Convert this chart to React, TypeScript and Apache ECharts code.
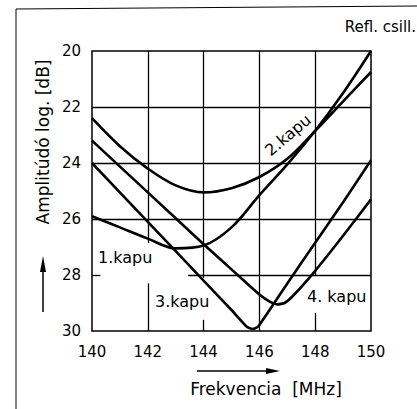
import React, { useEffect, useRef } from "react";
import * as echarts from "echarts";

// Frequency axis ticks (MHz) and amplitude ticks (dB)
const xTicks = [140, 142, 144, 146, 148, 150];
const yTicks = [20, 22, 24, 26, 28, 30];

// 1.kapu
const kapu1Freq = [140, 141, 142, 143, 144, 145, 146, 147, 148, 149, 150];
const kapu1Amp = [25.9, 26.3, 26.7, 27.05, 26.95, 26.3, 25.15, 24.05, 22.85, 21.5, 20.0];
// 2.kapu
const kapu2Freq = [140, 141, 142, 143, 144, 145, 146, 147, 148, 149, 150];
const kapu2Amp = [22.4, 23.4, 24.2, 24.8, 25.05, 24.9, 24.5, 23.85, 22.85, 21.8, 20.75];
// 3.kapu
const kapu3Freq = [140, 142, 144, 145, 145.55, 145.75, 145.95, 147, 148, 149, 150];
const kapu3Amp = [24.0, 26.1, 28.2, 29.25, 29.85, 29.93, 29.85, 28.3, 26.85, 25.4, 23.9];
// 4.kapu
const kapu4Freq = [140, 142, 144, 145, 146, 146.4, 146.65, 146.9, 147.2, 148, 149, 150];
const kapu4Amp = [23.2, 25.05, 26.9, 27.8, 28.7, 28.97, 29.05, 29.0, 28.75, 27.85, 26.6, 25.3];

// Grid line segments (interrupted where labels sit)
const gridVertical = [
  [142, 20, 26.85],
  [142, 28.3, 30],
  [144, 20, 28.1],
  [144, 29.6, 30],
  [146, 20, 30],
  [148, 20, 28],
  [148, 29.35, 30],
];
const gridHorizontal = [
  [22, 140, 150],
  [24, 140, 150],
  [26, 140, 150],
  [28, 140, 140.3],
  [28, 143.45, 150],
];

const FONT = "DejaVu Sans";

function pairs(xs: number[], ys: number[]) {
  return xs.map((x, i) => [x, ys[i]]);
}

export default function App() {
  const ref = useRef<HTMLDivElement>(null);

  useEffect(() => {
    if (!ref.current) return;
    const chart = echarts.init(ref.current, null, { renderer: "svg" });

    const gridLines: any[] = [];
    gridVertical.forEach(([x, y1, y2]) =>
      gridLines.push([{ coord: [x, y1] }, { coord: [x, y2] }])
    );
    gridHorizontal.forEach(([y, x1, x2]) =>
      gridLines.push([{ coord: [x1, y] }, { coord: [x2, y] }])
    );

    const curveStyle = { color: "#000", width: 2.6 };
    const curve = (name: string, xs: number[], ys: number[], smooth: any) => ({
      name,
      type: "line",
      data: pairs(xs, ys),
      showSymbol: false,
      smooth,
      lineStyle: curveStyle,
      itemStyle: { color: "#000" },
      silent: true,
      z: 3,
    });

    chart.setOption({
      animation: false,
      backgroundColor: "#fff",
      textStyle: { fontFamily: FONT },
      grid: {
        left: 92,
        right: 46,
        top: 51,
        bottom: 78,
        show: true,
        borderColor: "#000",
        borderWidth: 1.5,
        backgroundColor: "transparent",
      },
      xAxis: {
        type: "value",
        min: xTicks[0],
        max: xTicks[xTicks.length - 1],
        interval: 2,
        axisLine: { show: false },
        axisTick: { show: false },
        splitLine: { show: false },
        axisLabel: { color: "#000", fontSize: 15, margin: 13, fontFamily: FONT },
      },
      yAxis: {
        type: "value",
        inverse: true,
        min: yTicks[0],
        max: yTicks[yTicks.length - 1],
        interval: 2,
        axisLine: { show: false },
        axisTick: { show: false },
        splitLine: { show: false },
        axisLabel: { color: "#000", fontSize: 15, margin: 11, fontFamily: FONT },
      },
      series: [
        {
          type: "line",
          data: [],
          silent: true,
          markLine: {
            silent: true,
            symbol: ["none", "none"],
            label: { show: false },
            lineStyle: { color: "#000", width: 1.3, type: "solid" },
            emphasis: { disabled: true },
            data: gridLines,
          },
        },
        curve("1.kapu", kapu1Freq, kapu1Amp, 0.35),
        curve("2.kapu", kapu2Freq, kapu2Amp, 0.35),
        curve("3.kapu", kapu3Freq, kapu3Amp, 0.15),
        curve("4.kapu", kapu4Freq, kapu4Amp, 0.15),
      ],
      graphic: [
        // outer frame
        { type: "line", shape: { x1: 16, y1: 9, x2: 16, y2: 409 }, style: { stroke: "#000", lineWidth: 1 } },
        { type: "line", shape: { x1: 16, y1: 9, x2: 417, y2: 6 }, style: { stroke: "#000", lineWidth: 1 } },
        {
          type: "text",
          x: 416,
          y: 27,
          style: { text: "Refl. csill.", fill: "#000", font: `15px "${FONT}"`, align: "right", verticalAlign: "middle" },
        },
        {
          type: "text",
          x: 43,
          y: 142,
          rotation: Math.PI / 2,
          style: { text: "Amplitúdó log. [dB]", fill: "#000", font: `17px "${FONT}"`, align: "center", verticalAlign: "middle" },
        },
        // y arrow
        { type: "line", shape: { x1: 43, y1: 312, x2: 43, y2: 268 }, style: { stroke: "#000", lineWidth: 1.5 } },
        { type: "polygon", shape: { points: [[43, 256], [40, 272], [46, 272]] }, style: { fill: "#000" } },
        // x arrow
        { type: "line", shape: { x1: 197, y1: 371, x2: 270, y2: 371 }, style: { stroke: "#000", lineWidth: 1.5 } },
        { type: "polygon", shape: { points: [[280, 371], [266, 368], [266, 374]] }, style: { fill: "#000" } },
        {
          type: "text",
          x: 266,
          y: 389,
          style: { text: "Frekvencia  [MHz]", fill: "#000", font: `17px "${FONT}"`, align: "center", verticalAlign: "middle" },
        },
        // curve labels
        {
          type: "text",
          x: 98,
          y: 257,
          style: { text: "1.kapu", fill: "#000", font: `16px "${FONT}"`, align: "left", verticalAlign: "middle" },
        },
        {
          type: "text",
          x: 155,
          y: 301,
          style: { text: "3.kapu", fill: "#000", font: `16px "${FONT}"`, align: "left", verticalAlign: "middle" },
        },
        {
          type: "text",
          x: 307,
          y: 296,
          style: { text: "4. kapu", fill: "#000", font: `16px "${FONT}"`, align: "left", verticalAlign: "middle" },
        },
        {
          type: "text",
          x: 288,
          y: 135,
          rotation: (40 * Math.PI) / 180,
          style: { text: "2.kapu", fill: "#000", font: `16px "${FONT}"`, align: "center", verticalAlign: "middle" },
        },
      ],
    });

    return () => chart.dispose();
  }, []);

  return <div ref={ref} style={{ width: 417, height: 409, position: "absolute", left: 0, top: 0 }} />;
}
